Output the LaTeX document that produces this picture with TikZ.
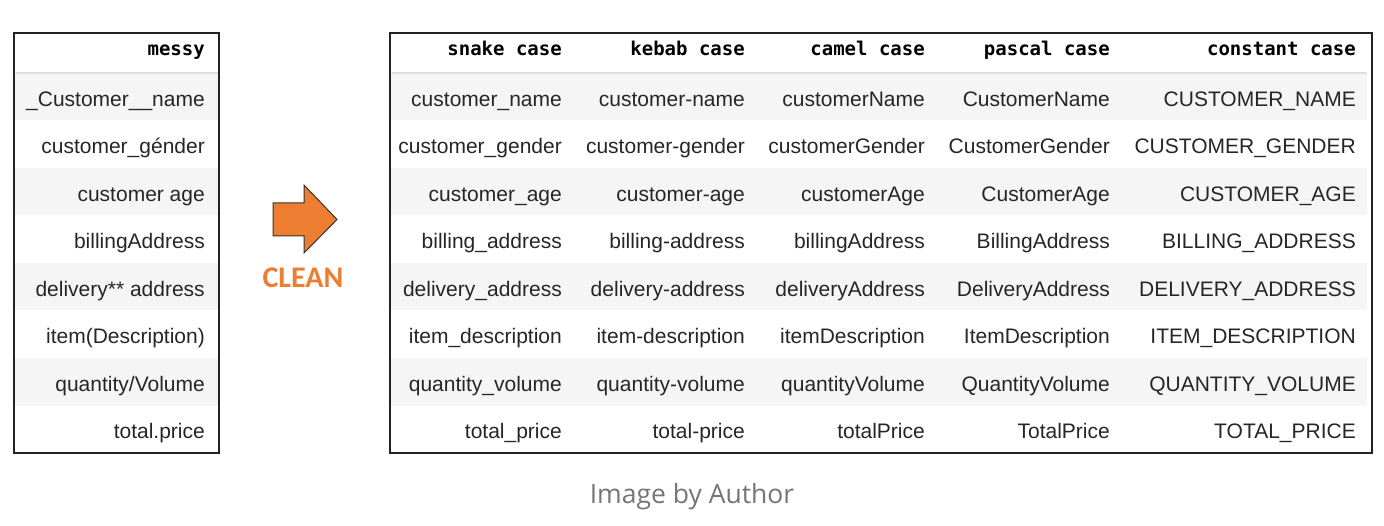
\documentclass[tikz,border=0pt]{standalone}
\usepackage{fontspec}
\setmainfont{Liberation Sans}
\newfontfamily\headfont{DejaVu Sans Mono}
\newfontfamily\cleanfont{Carlito}
\newfontfamily\notefont{Open Sans}
\usetikzlibrary{positioning}
\definecolor{bandgray}{HTML}{F5F5F5}
\definecolor{rulegray}{HTML}{DDDDDD}
\definecolor{framegray}{HTML}{222222}
\definecolor{cleanorange}{HTML}{ED7D31}
\definecolor{notegray}{HTML}{757575}

\begin{document}
\begin{tikzpicture}[
    x=1pt, y=-1pt,
    font=\fontsize{21}{25}\selectfont,
    cell/.style={anchor=base east, inner sep=0, text=black!85},
    head/.style={cell, text=black, font=\headfont\bfseries\fontsize{19}{23}\selectfont},
    band/.style={fill=bandgray, draw=none},
    frame/.style={draw=framegray, line width=1.4pt},
    bigarrow/.style={fill=cleanorange, draw=black!80, line width=1pt, line join=miter},
    cleanlabel/.style={inner sep=0, text=cleanorange, font=\cleanfont\bfseries\fontsize{30}{36}\selectfont},
    note/.style={inner sep=0, text=notegray, font=\notefont\fontsize{26.5}{32}\selectfont}
  ]

  \useasboundingbox (0,0) rectangle (1384,526);

  \foreach \r in {1,3,5,7} {
    \fill[band] (15,73+47.5*\r-47.5) rectangle (218,73+47.5*\r);
    \fill[band] (391,73+47.5*\r-47.5) rectangle (1367,73+47.5*\r);
  }
  \draw[rulegray, line width=1.5pt] (16,73) -- (218,73);
  \draw[rulegray, line width=1.5pt] (392,73) -- (1367,73);

  \draw[frame] (14,33) rectangle (219,453);
  \draw[frame] (390,33) rectangle (1372,453);

  \node[head] (mh) at (205,56) {messy};
  \node[cell] (m1) at (205,106.25) {\_Customer\_\_name};
  \node[cell] (m2) at (205,153.75) {customer\_génder};
  \node[cell] (m3) at (205,201.25) {customer age};
  \node[cell] (m4) at (205,248.75) {billingAddress};
  \node[cell] (m5) at (205,296.25) {delivery** address};
  \node[cell] (m6) at (205,343.75) {item(Description)};
  \node[cell] (m7) at (205,391.25) {quantity/Volume};
  \node[cell] (m8) at (205,438.75) {total.price};

  \draw[bigarrow] (273,203) -- (304,203) -- (304,185) -- (337,219.5)
    -- (304,253) -- (304,236) -- (273,236) -- cycle;
  \coordinate (tip) at (337,219.5);
  \node[cleanlabel] (clean) at (303,277.5) {CLEAN};

  \node[head] (sh) at (562,56) {snake case};
  \node[head] (kh) at (745,56) {kebab case};
  \node[head] (ch) at (925,56) {camel case};
  \node[head] (ph) at (1110,56) {pascal case};
  \node[head] (uh) at (1356,56) {constant case};

  \node[cell] (s1) at (562,106.25) {customer\_name};
  \node[cell] (k1) at (745,106.25) {customer-name};
  \node[cell] (c1) at (925,106.25) {customerName};
  \node[cell] (p1) at (1110,106.25) {CustomerName};
  \node[cell] (u1) at (1356,106.25) {CUSTOMER\_NAME};

  \node[cell] (s2) at (562,153.75) {customer\_gender};
  \node[cell] (k2) at (745,153.75) {customer-gender};
  \node[cell] (c2) at (925,153.75) {customerGender};
  \node[cell] (p2) at (1110,153.75) {CustomerGender};
  \node[cell] (u2) at (1356,153.75) {CUSTOMER\_GENDER};

  \node[cell] (s3) at (562,201.25) {customer\_age};
  \node[cell] (k3) at (745,201.25) {customer-age};
  \node[cell] (c3) at (925,201.25) {customerAge};
  \node[cell] (p3) at (1110,201.25) {CustomerAge};
  \node[cell] (u3) at (1356,201.25) {CUSTOMER\_AGE};

  \node[cell] (s4) at (562,248.75) {billing\_address};
  \node[cell] (k4) at (745,248.75) {billing-address};
  \node[cell] (c4) at (925,248.75) {billingAddress};
  \node[cell] (p4) at (1110,248.75) {BillingAddress};
  \node[cell] (u4) at (1356,248.75) {BILLING\_ADDRESS};

  \node[cell] (s5) at (562,296.25) {delivery\_address};
  \node[cell] (k5) at (745,296.25) {delivery-address};
  \node[cell] (c5) at (925,296.25) {deliveryAddress};
  \node[cell] (p5) at (1110,296.25) {DeliveryAddress};
  \node[cell] (u5) at (1356,296.25) {DELIVERY\_ADDRESS};

  \node[cell] (s6) at (562,343.75) {item\_description};
  \node[cell] (k6) at (745,343.75) {item-description};
  \node[cell] (c6) at (925,343.75) {itemDescription};
  \node[cell] (p6) at (1110,343.75) {ItemDescription};
  \node[cell] (u6) at (1356,343.75) {ITEM\_DESCRIPTION};

  \node[cell] (s7) at (562,391.25) {quantity\_volume};
  \node[cell] (k7) at (745,391.25) {quantity-volume};
  \node[cell] (c7) at (925,391.25) {quantityVolume};
  \node[cell] (p7) at (1110,391.25) {QuantityVolume};
  \node[cell] (u7) at (1356,391.25) {QUANTITY\_VOLUME};

  \node[cell] (s8) at (562,438.75) {total\_price};
  \node[cell] (k8) at (745,438.75) {total-price};
  \node[cell] (c8) at (925,438.75) {totalPrice};
  \node[cell] (p8) at (1110,438.75) {TotalPrice};
  \node[cell] (u8) at (1356,438.75) {TOTAL\_PRICE};

  \node[note] (note) at (692,497) {Image by Author};

\end{tikzpicture}
\end{document}
